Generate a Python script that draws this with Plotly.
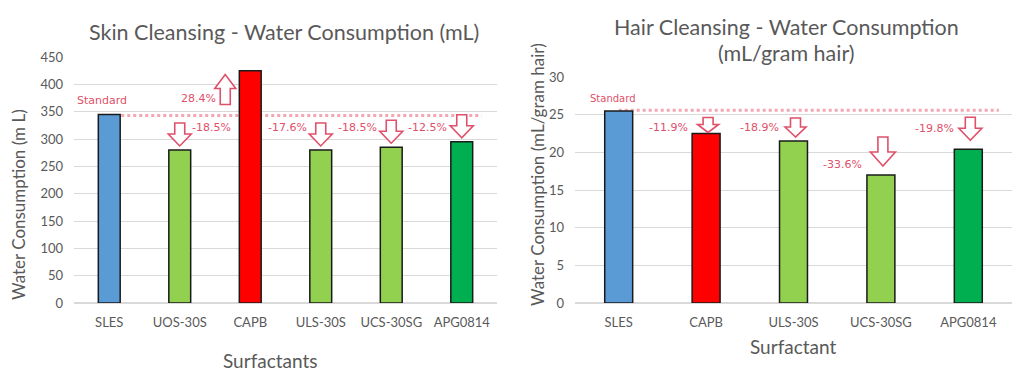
import plotly.graph_objects as go

# ---------------- data ----------------
skin_categories = ["SLES", "UOS-30S", "CAPB", "ULS-30S", "UCS-30SG", "APG0814"]
skin_values = [345, 280, 425, 280, 285, 295]
skin_standard = 343
skin_changes = ["", "-18.5%", "28.4%", "-17.6%", "-18.5%", "-12.5%"]

hair_categories = ["SLES", "CAPB", "ULS-30S", "UCS-30SG", "APG0814"]
hair_values = [25.5, 22.5, 21.5, 17.0, 20.4]
hair_standard = 25.6
hair_changes = ["", "-11.9%", "-18.9%", "-33.6%", "-19.8%"]

skin_ticks = [0, 50, 100, 150, 200, 250, 300, 350, 400, 450]
hair_ticks = [0, 5, 10, 15, 20, 25, 30]

# ---------------- style ----------------
BLUE, LGREEN, RED, DGREEN = "#5b9bd5", "#92d050", "#ff0000", "#00b050"
skin_colors = [BLUE, LGREEN, RED, LGREEN, LGREEN, DGREEN]
hair_colors = [BLUE, RED, LGREEN, LGREEN, DGREEN]
GREY = "#595959"
GRID = "#d9d9d9"
PINK = "#e0506a"
LINE_PINK = "#f4a7b2"
FONT = "Lato"
HAND = "DejaVu Sans"

OFF = 8                      # page body margin
W, H = 1024 - OFF, 373 - OFF
# plot-area boxes in window pixels
L_X0, L_X1, L_Y0, L_Y1 = 74, 497, 57, 303
R_X0, R_X1, R_Y0, R_Y1 = 575, 1012, 77, 303

fig = go.Figure()
fig.add_trace(go.Bar(
    x=skin_categories, y=skin_values,
    marker=dict(color=skin_colors, line=dict(color="#1a1a1a", width=1.5)),
    width=0.31, xaxis="x", yaxis="y", showlegend=False))
fig.add_trace(go.Bar(
    x=hair_categories, y=hair_values,
    marker=dict(color=hair_colors, line=dict(color="#1a1a1a", width=1.5)),
    width=0.32, xaxis="x2", yaxis="y2", showlegend=False))


def xdom(x0, x1):
    return [(x0 - OFF) / W, (x1 - OFF) / W]


def ydom(y0, y1):
    return [1 - (y1 - OFF) / H, 1 - (y0 - OFF) / H]


axis_common = dict(showline=False, ticks="", automargin=False,
                   tickfont=dict(family=FONT, size=13, color=GREY))
fig.update_layout(
    width=W, height=H, margin=dict(l=0, r=0, t=0, b=0, autoexpand=False),
    paper_bgcolor="white", plot_bgcolor="white",
    xaxis=dict(domain=xdom(L_X0, L_X1), anchor="y", showgrid=False, ticklabelstandoff=10, **axis_common),
    yaxis=dict(domain=ydom(L_Y0, L_Y1), anchor="x", range=[0, 450], tickvals=skin_ticks,
               showgrid=True, gridcolor=GRID, gridwidth=1, zeroline=True, zerolinecolor=GRID,
               ticklabelstandoff=10, **axis_common),
    xaxis2=dict(domain=xdom(R_X0, R_X1), anchor="y2", showgrid=False, ticklabelstandoff=10, **axis_common),
    yaxis2=dict(domain=ydom(R_Y0, R_Y1), anchor="x2", range=[0, 30], tickvals=hair_ticks,
                showgrid=True, gridcolor=GRID, gridwidth=1, zeroline=True, zerolinecolor=GRID,
                ticklabelstandoff=10, **axis_common),
)

shapes = []
# standard lines (below bars)
shapes.append(dict(type="line", xref="x", yref="y", x0=0, x1=len(skin_categories) - 1 + 0.28,
                   y0=skin_standard, y1=skin_standard, layer="below",
                   line=dict(color=LINE_PINK, width=3, dash="dot")))
shapes.append(dict(type="line", xref="x2", yref="y2", x0=0, x1=len(hair_categories) - 1 + 0.35,
                   y0=hair_standard, y1=hair_standard, layer="below",
                   line=dict(color=LINE_PINK, width=3, dash="dot")))


def block_arrow(xref, yref, xa, ya, w, h, head, shaft, up=False, gap=4, dx=0):
    """Hollow block arrow sized in pixels, anchored at data point (xa, ya)."""
    t = gap
    if up:
        pts = [(dx, t + h), (dx - w / 2, t + h - head), (dx - shaft / 2, t + h - head), (dx - shaft / 2, t),
               (dx + shaft / 2, t), (dx + shaft / 2, t + h - head), (dx + w / 2, t + h - head)]
    else:
        pts = [(dx, t), (dx - w / 2, t + head), (dx - shaft / 2, t + head), (dx - shaft / 2, t + h),
               (dx + shaft / 2, t + h), (dx + shaft / 2, t + head), (dx + w / 2, t + head)]
    path = "M " + " L ".join(f"{x:.1f},{y:.1f}" for x, y in pts) + " Z"
    return dict(type="path", xref=xref, yref=yref, xsizemode="pixel", ysizemode="pixel",
                xanchor=xa, yanchor=ya, path=path, fillcolor="white",
                line=dict(color=PINK, width=1.6), layer="above")


ann = []
def px(xp, yp, text, size, color=GREY, family=FONT, **kw):
    ann.append(dict(xref="paper", yref="paper", x=(xp - OFF) / W, y=1 - (yp - OFF) / H, text=text,
                    showarrow=False, font=dict(family=family, size=size, color=color),
                    xanchor="center", yanchor="middle", **kw))

# titles
px(284, 32, "Skin Cleansing - Water Consumption (mL)", 21.5)
px(786, 27, "Hair Cleansing - Water Consumption", 21.5)
px(786, 53, "(mL/gram hair)", 21.5)
px(270, 360, "Surfactants", 19)
px(793, 346, "Surfactant", 19)
px(18, 205, "Water Consumption (m L)", 17, textangle=-90)
px(537, 175, "Water Consumption (mL/gram hair)", 17, textangle=-90)
px(102, 100, "Standard", 11, color=PINK, family=HAND)
px(613, 98, "Standard", 10, color=PINK, family=HAND)

# skin arrows / labels (offsets in pixels)
skin_text_dx = [0, 32, -52, -33, -34, -34]
for i, (c, v, t) in enumerate(zip(skin_categories, skin_values, skin_changes)):
    if not t:
        continue
    if t.startswith("-"):
        shapes.append(block_arrow("x", "y", c, v, 23, 23, 12, 10))
        ann.append(dict(xref="x", yref="y", x=c, y=skin_standard, yshift=-12, xshift=skin_text_dx[i],
                        text=t, showarrow=False, font=dict(family=HAND, size=11, color=PINK)))
    else:
        shapes.append(block_arrow("x", "y", c, skin_standard, 21, 30, 14, 10, up=True, gap=11, dx=-25))
        ann.append(dict(xref="x", yref="y", x=c, y=skin_standard, yshift=17, xshift=skin_text_dx[i],
                        text=t, showarrow=False, font=dict(family=HAND, size=11, color=PINK)))

hair_arrow_w = [0, 21, 21, 25, 23]
hair_arrow_h = [0, 15, 19, 29, 23]
hair_arrow_gap = [0, 1, 4, 9, 9]
hair_text_dx = [0, -38, -34, -38, -34]
hair_text_dy = [0, 6, 14, 10, 21]
for i, (c, v, t) in enumerate(zip(hair_categories, hair_values, hair_changes)):
    if not t:
        continue
    shapes.append(block_arrow("x2", "y2", c, v, hair_arrow_w[i], hair_arrow_h[i],
                              round(hair_arrow_h[i] * 0.5), 10, gap=hair_arrow_gap[i], dx=2))
    ann.append(dict(xref="x2", yref="y2", x=c, y=v, yshift=hair_text_dy[i], xshift=hair_text_dx[i],
                    text=t, showarrow=False, font=dict(family=HAND, size=11, color=PINK)))

fig.update_layout(annotations=ann, shapes=shapes)
fig.write_html("out.html")
